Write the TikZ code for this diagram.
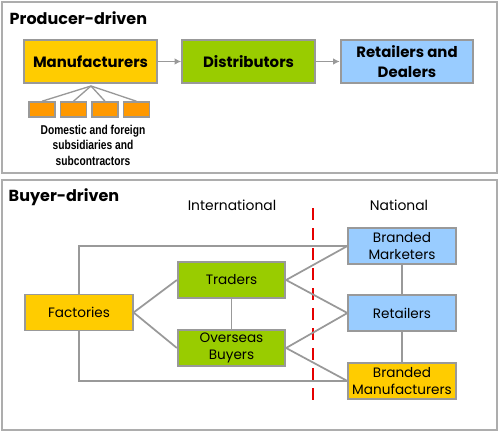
\documentclass[tikz,border=0pt]{standalone}
\usepackage{fontspec}
\setmainfont{Poppins}
\newfontfamily\narrowfont[FakeStretch=0.8]{Liberation Sans}
\usetikzlibrary{arrows.meta}
\definecolor{boxgray}{HTML}{999999}
\definecolor{gold}{HTML}{FFCC00}
\definecolor{leaf}{HTML}{99CC00}
\definecolor{sky}{HTML}{99CCFF}
\definecolor{orng}{HTML}{FF9900}
\tikzset{
  panel/.style={draw=boxgray!80, line width=0.9pt},
  bx/.style={draw=boxgray, line width=1.4pt, inner sep=0pt, align=center, text=black},
  bigbx/.style={bx, minimum width=99.5pt, minimum height=32pt, font=\fontsize{11.2}{14.5}\selectfont\bfseries},
  smbx/.style={bx, minimum width=80.5pt, minimum height=27pt, font=\fontsize{10.2}{13.2}\selectfont},
  tiny/.style={bx, fill=orng, minimum width=19.5pt, minimum height=11pt},
  link/.style={draw=boxgray, line width=1.3pt},
  arr/.style={link, -{Latex[length=5pt,width=5pt]}},
  title/.style={anchor=west, font=\fontsize{12}{14}\selectfont\bfseries},
  hdr/.style={font=\fontsize{10.4}{12}\selectfont}
}
\begin{document}
\begin{tikzpicture}[x=0.75pt,y=-0.75pt]
\useasboundingbox (0,0) rectangle (500,432);
% panels
\draw[panel] (2,2) rectangle (497,173);
\draw[panel] (2,180) rectangle (497,430);
\node[title] (ptitle) at (5,18) {Producer-driven};
\node[title] (btitle) at (4,197) {Buyer-driven};
% producer-driven
\node[bigbx, fill=gold] (man) at (90.5,61.5) {Manufacturers};
\node[bigbx, fill=leaf] (dis) at (248.5,61.5) {Distributors};
\node[bigbx, fill=sky] (ret) at (407,61.5) {Retailers and\\Dealers};
\draw[arr] (man) -- (dis);
\draw[arr] (dis) -- (ret);
\coordinate (hub) at (91,86);
\node[tiny] (s1) at (42,109.5) {};
\node[tiny] (s2) at (73.5,109.5) {};
\node[tiny] (s3) at (105,109.5) {};
\node[tiny] (s4) at (136.5,109.5) {};
\foreach \s in {s1,s2,s3,s4} \draw[link, line width=1pt] (hub) -- (\s.north);
\node[font=\narrowfont\fontsize{9.6}{11.6}\selectfont\bfseries, align=center] (dom) at (93,145) {Domestic and foreign\\subsidiaries and\\subcontractors};
% buyer-driven
\node[hdr] (intl) at (232,205) {International};
\node[hdr] (natl) at (399,205) {National};
\coordinate (dtop) at (313,208);
\coordinate (dbot) at (313,407);
\draw[red!90!black, line width=2pt, dash pattern=on 9pt off 6pt] (dtop) -- (dbot);
\node[smbx, fill=sky] (bm) at (402,246) {Branded\\Marketers};
\node[smbx, fill=sky] (rt) at (402,313) {Retailers};
\node[smbx, fill=gold] (bf) at (402,381) {Branded\\Manufacturers};
\node[smbx, fill=leaf] (tr) at (231.5,280) {Traders};
\node[smbx, fill=leaf] (ob) at (231.5,348) {Overseas\\Buyers};
\node[smbx, fill=gold] (fa) at (79,312.5) {Factories};
\draw[link] (fa.north) |- (bm.west);
\draw[link] (fa.south) |- (bf.west);
\draw[link] (fa.east) -- (tr.west);
\draw[link] (fa.east) -- (ob.west);
\draw[link] (tr.east) -- (bm.west);
\draw[link] (tr.east) -- (rt.west);
\draw[link] (ob.east) -- (rt.west);
\draw[link] (ob.east) -- (bf.west);
\draw[link] (tr) -- (ob);
\draw[link] (bm) -- (rt);
\draw[link] (rt) -- (bf);
\end{tikzpicture}
\end{document}
